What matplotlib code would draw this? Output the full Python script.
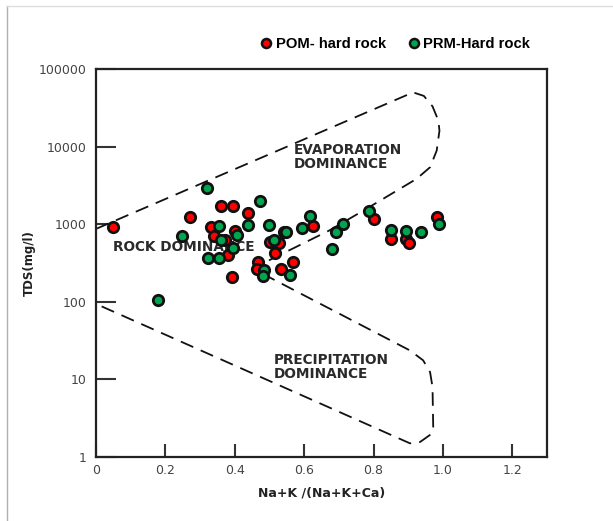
import matplotlib
matplotlib.use("Agg")
import matplotlib.pyplot as plt
from matplotlib.lines import Line2D

# ---- data ----
pom_x = [0.050, 0.270, 0.360, 0.396, 0.438, 0.331, 0.341, 0.372, 0.380, 0.393,
         0.401, 0.501, 0.527, 0.517, 0.467, 0.464, 0.532, 0.568, 0.626, 0.800,
         0.851, 0.895, 0.903, 0.982]
pom_tds = [915, 1230, 1706, 1738, 1387, 933, 700, 617, 403, 208,
           828, 598, 569, 424, 330, 266, 266, 321, 962, 1172,
           647, 647, 576, 1230]

prm_x = [0.321, 0.474, 0.249, 0.355, 0.360, 0.406, 0.396, 0.323, 0.355, 0.438,
         0.498, 0.514, 0.541, 0.548, 0.483, 0.480, 0.558, 0.593, 0.616, 0.679,
         0.692, 0.711, 0.786, 0.851, 0.893, 0.938, 0.988, 0.178]
prm_tds = [2911, 1978, 700, 942, 617, 736, 491, 369, 369, 990,
           980, 617, 789, 789, 258, 218, 223, 898, 1268, 481,
           805, 1009, 1500, 853, 828, 805, 1009, 106]

# Gibbs boundary (evaporation / rock dominance)
upper_x = [0.0, 0.914, 0.945, 0.970, 0.987, 0.990, 0.982, 0.963, 0.924, 0.779, 0.672, 0.478]
upper_tds = [870, 50000, 45000, 33000, 21600, 16000, 8870, 5420, 3840, 1574, 828, 308]
# Gibbs boundary (precipitation / rock dominance)
lower_x = [0.480, 0.905, 0.943, 0.963, 0.970, 0.972, 0.968, 0.934, 0.905, 0.0]
lower_tds = [230, 23.6, 17.6, 12.4, 7.96, 2.43, 2.0, 1.56, 1.5, 94]

xticks = [0, 0.2, 0.4, 0.6, 0.8, 1.0, 1.2]
xtick_labels = ["0", "0.2", "0.4", "0.6", "0.8", "1.0", "1.2"]
yticks = [1, 10, 100, 1000, 10000, 100000]
ytick_labels = ["1", "10", "100", "1000", "10000", "100000"]

# ---- figure ----
W, H = 613, 521
fig = plt.figure(figsize=(W / 100, H / 100), dpi=100)
ax = fig.add_axes([96 / W, 1 - 457 / H, 451 / W, 388 / H])
ax.set_yscale("log")
ax.set_xlim(0, 1.3)
ax.set_ylim(1, 100000)

for s in ax.spines.values():
    s.set_linewidth(1.6)
    s.set_color("#222222")

ax.set_xticks(xticks)
ax.set_xticklabels(xtick_labels)
ax.set_yticks(yticks)
ax.set_yticklabels(ytick_labels)
ax.minorticks_off()
ax.tick_params(axis="y", which="major", direction="in", length=14.5, width=1.5,
               color="#333333", pad=7, labelsize=9, labelcolor="#444444")
ax.tick_params(axis="x", which="major", direction="in", length=9.5, width=1.5,
               color="#333333", pad=5, labelsize=9, labelcolor="#444444")

dash_kw = dict(color="#111111", lw=1.3, dashes=(7.5, 4.5))
ax.plot(upper_x, upper_tds, **dash_kw, zorder=2)
ax.plot(lower_x, lower_tds, **dash_kw, zorder=2)

txt_kw = dict(fontsize=9.8, fontweight="bold", color="#2a2a2a",
              family="DejaVu Sans", zorder=1, linespacing=1.0)
ax.text(0.57, 10 ** 3.87, "EVAPORATION\nDOMINANCE", ha="left", va="center", **txt_kw)
ax.text(0.05, 10 ** 2.70, "ROCK DOMINANCE", ha="left", va="center", **txt_kw)
ax.text(0.513, 10 ** 1.16, "PRECIPITATION\nDOMINANCE", ha="left", va="center", **txt_kw)

mk = dict(marker="o", s=56, edgecolors="#111111", linewidths=2.0, zorder=3)
ax.scatter(pom_x, pom_tds, c="#FF0000", **mk)
ax.scatter(prm_x, prm_tds, c="#00A550", **mk)

ax.set_xlabel("Na+K /(Na+K+Ca)", fontsize=9, fontweight="bold", color="#222222", labelpad=7)
ax.set_ylabel("TDS(mg/l)", fontsize=8.5, fontweight="bold", color="#222222", labelpad=2)

handles = [
    Line2D([], [], ls="none", marker="o", ms=6.5, mfc="#FF0000", mec="#111111", mew=1.8),
    Line2D([], [], ls="none", marker="o", ms=6.5, mfc="#00A550", mec="#111111", mew=1.8),
]
fig.legend(handles, ["POM- hard rock", "PRM-Hard rock"], loc="center",
           bbox_to_anchor=(396 / W, 1 - 44 / H), ncol=2, frameon=False,
           handlelength=0.6, handletextpad=0.35, columnspacing=1.6,
           prop={"family": "Liberation Sans", "weight": "bold", "size": 10.6})

# faint outer frame of the picture
fig.add_artist(Line2D([7 / W, 7 / W], [0, 1 - 6 / H], transform=fig.transFigure,
                      color="#b0b0b0", lw=1.0))
fig.add_artist(Line2D([7 / W, 1], [1 - 6 / H, 1 - 6 / H], transform=fig.transFigure,
                      color="#dddddd", lw=1.0))

fig.savefig("out.png", dpi=100)
